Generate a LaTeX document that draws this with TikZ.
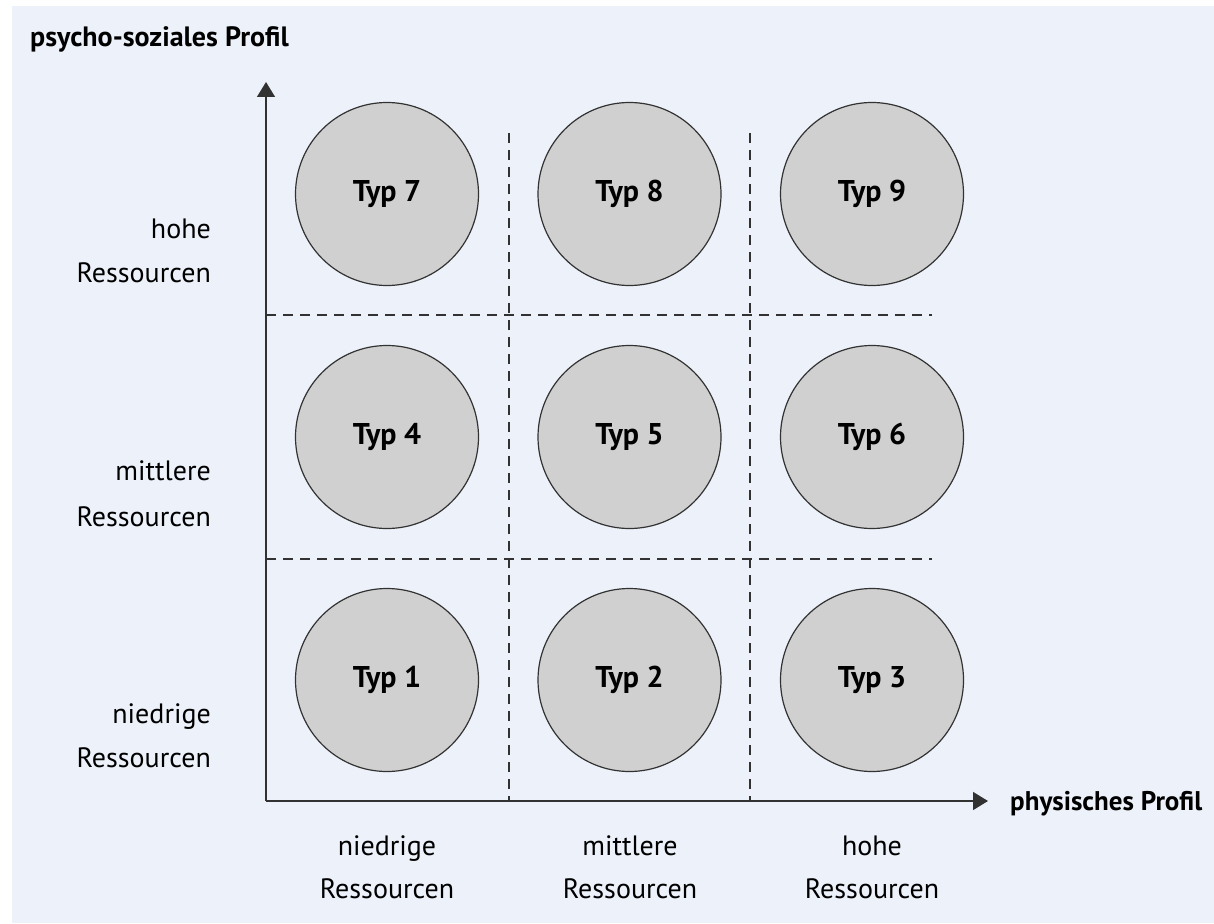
\documentclass[tikz,border=0pt]{standalone}
\usepackage{fontspec}
\setmainfont{PT Sans}
\usetikzlibrary{arrows.meta}
\definecolor{bgblue}{RGB}{237,242,250}
\definecolor{typgrey}{RGB}{208,208,208}
\definecolor{linegrey}{RGB}{50,50,50}
\tikzset{
	typcircle/.style={circle, draw=linegrey, line width=1.2pt, fill=typgrey, minimum size=183pt, inner sep=0pt, font=\fontsize{30}{34}\selectfont\bfseries},
	gridline/.style={linegrey, line width=1.2pt, dash pattern=on 10pt off 7pt},
	axisline/.style={linegrey, line width=1.4pt, -{Triangle[length=15pt,width=18pt]}},
	lbl/.style={font=\fontsize{28}{32}\selectfont, inner sep=0pt},
	axlbl/.style={font=\fontsize{28}{32}\selectfont\bfseries, inner sep=0pt, anchor=base west}
}
\begin{document}
\begin{tikzpicture}[x=1pt,y=-1pt]
			\useasboundingbox (0,0) rectangle (1214,923);
			\fill[bgblue] (12,6) rectangle (1214,923);
			
			% Draw axes
			\coordinate (origin) at (266,801);
			\coordinate (ytip) at (266,82);
			\coordinate (xtip) at (988,801);
			\draw[axisline] (origin) -- (ytip);
			\draw[axisline] (origin) -- (xtip);
			\node[axlbl] (ytitle) at (30,47) {psycho-soziales Profil};
			\node[axlbl, font=\fontsize{27}{32}\selectfont\bfseries] (xtitle) at (1010,810) {physisches Profil};
			
			% Dashed grid
			\draw[gridline] (509,133) -- (509,801);
			\draw[gridline] (750,133) -- (750,801);
			\draw[gridline] (266,315) -- (932,315);
			\draw[gridline] (266,559) -- (932,559);
			
			% The nine types
			\foreach \row in {0,1,2}
			\foreach \col in {0,1,2}{
				\pgfmathtruncatemacro{\n}{3*\row+\col+1}
				\node[typcircle] (typ\n) at ({387+242.5*\col},{680-243*\row}) {Typ \n};
			}
			
			% Labels of the y axis
			\node[lbl, anchor=base east] (yhigh) at (211,238) {hohe};
			\node[lbl, anchor=base east] (yhighb) at (211,282) {Ressourcen};
			\node[lbl, anchor=base east] (ymid) at (211,480) {mittlere};
			\node[lbl, anchor=base east] (ymidb) at (211,526) {Ressourcen};
			\node[lbl, anchor=base east] (ylow) at (211,723) {niedrige};
			\node[lbl, anchor=base east] (ylowb) at (211,767) {Ressourcen};
			
			% Labels of the x axis
			\node[lbl, anchor=base] (xlow) at (387,855) {niedrige};
			\node[lbl, anchor=base] (xlowb) at (387,898) {Ressourcen};
			\node[lbl, anchor=base] (xmid) at (630,855) {mittlere};
			\node[lbl, anchor=base] (xmidb) at (630,898) {Ressourcen};
			\node[lbl, anchor=base] (xhigh) at (872,855) {hohe};
			\node[lbl, anchor=base] (xhighb) at (872,898) {Ressourcen};
			
		\end{tikzpicture}
\end{document}
